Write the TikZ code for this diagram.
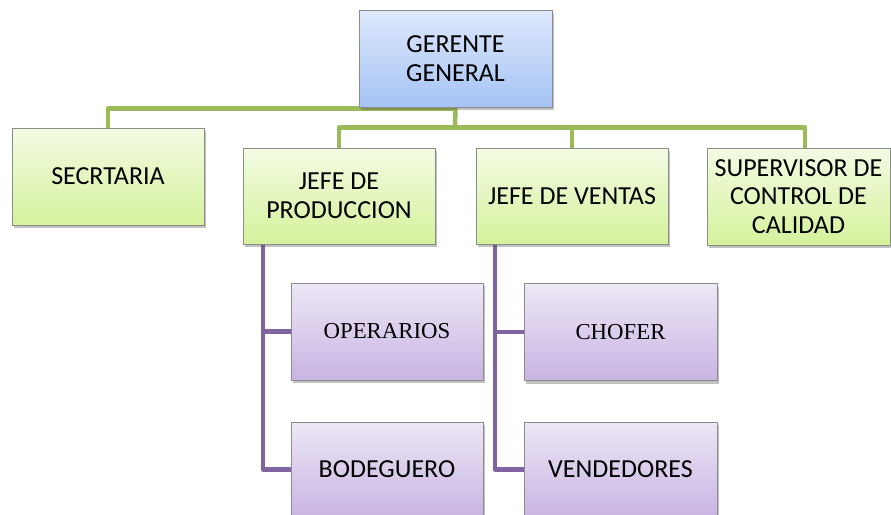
\documentclass[tikz,border=0pt]{standalone}
\usepackage{fontspec}
\setmainfont{Carlito}
\newfontfamily\timesfont{Liberation Serif}
\usetikzlibrary{shadows,calc}
\pgfdeclarelayer{bg}
\pgfsetlayers{bg,main}
\definecolor{gtop}{HTML}{DDE8FC}
\definecolor{gbot}{HTML}{A5C3F5}
\definecolor{ltop}{HTML}{F3FBE3}
\definecolor{lbot}{HTML}{D5F29C}
\definecolor{ptop}{HTML}{EDE7F6}
\definecolor{pbot}{HTML}{C8B4E2}
\definecolor{gline}{HTML}{9BBB59}
\definecolor{pline}{HTML}{8064A2}
\definecolor{bord}{HTML}{8C8C8C}
\tikzset{
  box/.style={draw=bord, line width=0.8pt, minimum width=192pt, minimum height=97pt,
    align=center, inner sep=2pt, font=\fontsize{26}{28.5}\selectfont,
    drop shadow={shadow xshift=2pt, shadow yshift=-3pt, opacity=0.35, fill=black!70}},
  bluebox/.style={box, top color=gtop, bottom color=gbot},
  greenbox/.style={box, top color=ltop, bottom color=lbot},
  purplebox/.style={box, top color=ptop, bottom color=pbot},
  serifbox/.style={purplebox, font=\timesfont\fontsize{22.8}{26}\selectfont},
  gconn/.style={draw=gline, line width=4.5pt, line join=round},
  pconn/.style={draw=pline, line width=4.5pt, line join=round},
}
\begin{document}
\begin{tikzpicture}[x=1pt,y=-1pt]
\useasboundingbox (0,0) rectangle (891,514);
\clip (0,0) rectangle (891,514);
\node[bluebox, minimum width=193pt] (gg) at (455.5,58.5) {GERENTE\\GENERAL};
\node[greenbox] (sec) at (108,176.5) {SECRTARIA};
\node[greenbox, minimum height=96pt] (jp) at (339,196) {JEFE DE\\PRODUCCION};
\node[greenbox, minimum height=96pt] (jv) at (572,196) {JEFE DE VENTAS};
\node[greenbox, minimum width=183pt] (sup) at (798.5,196.5) {SUPERVISOR DE\\CONTROL DE\\CALIDAD};
\node[serifbox] (op) at (387,331.5) {OPERARIOS};
\node[purplebox, minimum height=95pt] (bod) at (387,469.5) {BODEGUERO};
\node[serifbox, minimum width=193pt] (ch) at (620.5,332) {CHOFER};
\node[purplebox, minimum width=193pt, minimum height=95pt] (ven) at (620.5,469.5) {VENDEDORES};
\coordinate (g1) at (455,108.5);
\coordinate (g2) at (455,127.5);
\coordinate (s1) at (805,148);
\coordinate (p1) at (263,244);
\coordinate (p2) at (495,244);
\begin{pgfonlayer}{bg}
\draw[gconn] (sec.north) |- (g1);
\draw[gconn] (gg.south) -- (g2);
\draw[gconn] (jp.north) |- (g2) -| (s1);
\draw[gconn] (jv.north) -- (jv.north |- g2);
\draw[pconn] (p1) |- (bod.west);
\draw[pconn] (p1 |- op.west) -- (op.west);
\draw[pconn] (p2) |- (ven.west);
\draw[pconn] (p2 |- ch.west) -- (ch.west);
\end{pgfonlayer}
\end{tikzpicture}
\end{document}
